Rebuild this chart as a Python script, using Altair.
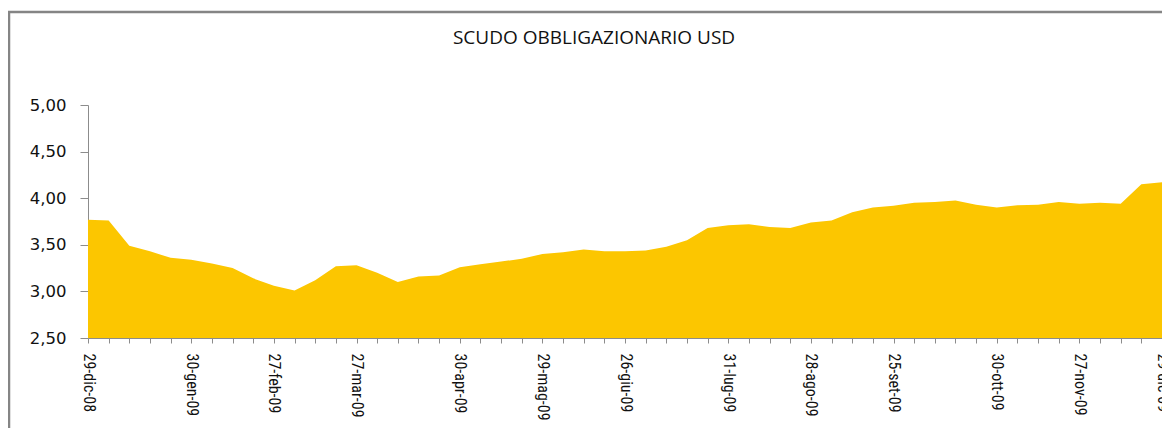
import altair as alt
import pandas as pd

dates = [
    "29-dic-08", "02-gen-09", "09-gen-09", "16-gen-09", "23-gen-09", "30-gen-09",
    "06-feb-09", "13-feb-09", "20-feb-09", "27-feb-09",
    "06-mar-09", "13-mar-09", "20-mar-09", "27-mar-09",
    "03-apr-09", "10-apr-09", "17-apr-09", "24-apr-09", "30-apr-09",
    "08-mag-09", "15-mag-09", "22-mag-09", "29-mag-09",
    "05-giu-09", "12-giu-09", "19-giu-09", "26-giu-09",
    "03-lug-09", "10-lug-09", "17-lug-09", "24-lug-09", "31-lug-09",
    "07-ago-09", "14-ago-09", "21-ago-09", "28-ago-09",
    "04-set-09", "11-set-09", "18-set-09", "25-set-09",
    "02-ott-09", "09-ott-09", "16-ott-09", "23-ott-09", "30-ott-09",
    "06-nov-09", "13-nov-09", "20-nov-09", "27-nov-09",
    "04-dic-09", "11-dic-09", "18-dic-09", "29-dic-09",
]

values = [
    3.77, 3.76, 3.49, 3.43, 3.36, 3.34,
    3.30, 3.25, 3.14, 3.06,
    3.01, 3.12, 3.27, 3.28,
    3.20, 3.10, 3.16, 3.17, 3.26,
    3.29, 3.32, 3.35, 3.40,
    3.42, 3.45, 3.43, 3.43,
    3.44, 3.48, 3.55, 3.68, 3.71,
    3.72, 3.69, 3.68, 3.74,
    3.76, 3.85, 3.90, 3.92,
    3.95, 3.96, 3.975, 3.93, 3.90,
    3.925, 3.93, 3.96, 3.94,
    3.95, 3.94, 4.15, 4.17,
]

labelled = [
    "29-dic-08", "30-gen-09", "27-feb-09", "27-mar-09", "30-apr-09", "29-mag-09",
    "26-giu-09", "31-lug-09", "28-ago-09", "25-set-09", "30-ott-09", "27-nov-09",
    "29-dic-09",
]

y_ticks = [2.5, 3.0, 3.5, 4.0, 4.5, 5.0]

title_text = "SCUDO OBBLIGAZIONARIO USD"

df = pd.DataFrame({"data": dates, "valore": values})

label_list = "[" + ",".join("'" + d + "'" for d in labelled) + "]"

W = 1074
H = 233

area = alt.Chart(df).mark_area(color="#FCC600", interpolate="linear").encode(
    x=alt.X(
        "data:O",
        sort=None,
        scale=alt.Scale(type="point", padding=0),
        axis=alt.Axis(
            title=None,
            labelAngle=90,
            labelExpr="indexof(" + label_list + ", datum.value) >= 0 ? datum.value : ''",
            labelOverlap=False,
            labelFlush=False,
            labelBound=False,
            labelFont="Liberation Sans Narrow, Roboto Condensed, Roboto",
            labelFontSize=16,
            labelColor="#111111",
            labelPadding=10,
            tickSize=5,
            tickColor="#8c8c8c",
            domainColor="#8c8c8c",
            grid=False,
        ),
    ),
    y=alt.Y(
        "valore:Q",
        scale=alt.Scale(domain=[2.5, 5.0], nice=False, zero=False, clamp=True),
        axis=alt.Axis(
            title=None,
            values=y_ticks,
            labelExpr="replace(format(datum.value, '.2f'), '.', ',')",
            labelFont="DejaVu Sans",
            labelFontSize=16.5,
            labelColor="#111111",
            labelPadding=14,
            tickSize=8,
            tickColor="#8c8c8c",
            domainColor="#8c8c8c",
            grid=False,
        ),
    ),
)

frame = alt.Chart(pd.DataFrame({"k": [0]})).mark_rect(
    fill="white", fillOpacity=0, stroke="#858585", strokeWidth=2.5
).encode(
    x=alt.value(-79),
    x2=alt.value(W + 200),
    y=alt.value(-93),
    y2=alt.value(H + 300),
)

chart = (
    alt.layer(frame, area)
    .properties(
        width=W,
        height=H,
        background="white",
        title=alt.TitleParams(
            text=title_text,
            anchor="middle",
            dx=-31,
            offset=-52,
            baseline="alphabetic",
            font="Open Sans",
            fontSize=19,
            fontWeight="normal",
            color="#111111",
        ),
        autosize=alt.AutoSizeParams(type="none"),
        padding={"left": 80, "top": 97, "right": 0, "bottom": 90},
    )
    .configure_view(stroke="transparent", strokeWidth=0)
)

chart.save("out.html", embed_options={"renderer": "svg", "actions": False})
